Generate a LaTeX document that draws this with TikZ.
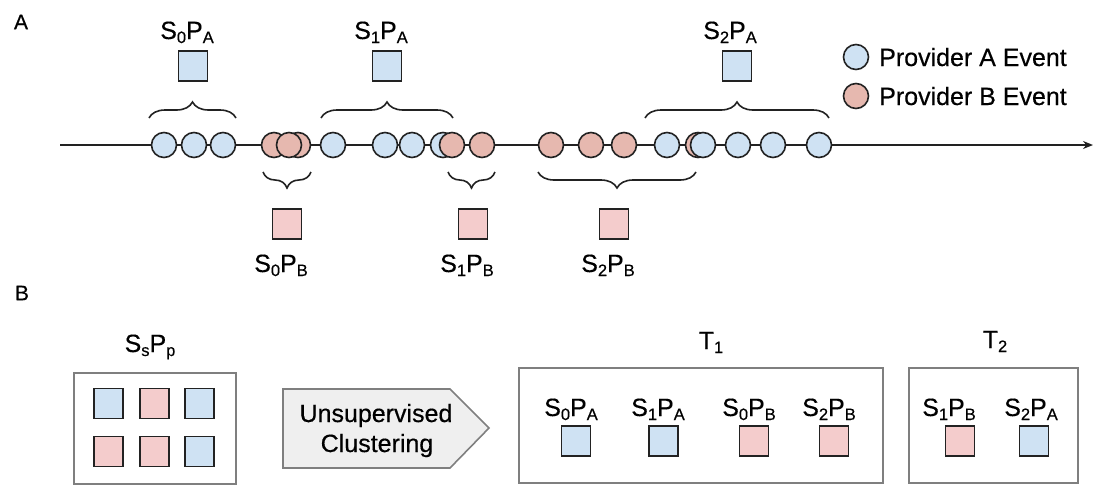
\documentclass[tikz,border=0pt]{standalone}
\usepackage{fontspec}
\setmainfont{Liberation Sans}[FakeBold=0.4]
\usetikzlibrary{decorations.pathreplacing,arrows.meta}
\definecolor{bfill}{HTML}{CFE2F3}
\definecolor{pfill}{HTML}{F4CCCC}
\definecolor{pcirc}{HTML}{E6B8AF}
\definecolor{edgec}{HTML}{222222}
\definecolor{boxedge}{HTML}{7F7F7F}
\definecolor{arrfill}{HTML}{EFEFEF}
\newcommand\lsub[1]{\raisebox{-4pt}{\fontsize{16.5}{17}\selectfont #1}}
\newcommand\SP[2]{S\lsub{#1}P\lsub{#2}}
\tikzset{
  ev/.style={circle, draw=edgec, line width=1.6pt, minimum size=25pt, inner sep=0pt},
  bev/.style={ev, fill=bfill},
  pev/.style={ev, fill=pcirc},
  sq/.style={draw=edgec, line width=1.6pt, minimum width=29pt, minimum height=30pt, inner sep=0pt},
  bsq/.style={sq, fill=bfill},
  psq/.style={sq, fill=pfill},
  lbl/.style={font=\fontsize{25}{30}\selectfont, inner sep=0pt, anchor=base},
  panel/.style={font=\fontsize{21}{25}\selectfont, inner sep=0pt},
  grpbox/.style={draw=boxedge, line width=1.6pt},
  tbrace/.style={decorate, decoration={brace, amplitude=16pt}, line width=1.6pt, draw=edgec},
}
\begin{document}
\begin{tikzpicture}[x=1pt,y=-1pt]
\useasboundingbox (0,0) rectangle (1095,485);
% panel labels
\node[panel] (pA) at (21,22) {A};
\node[panel] (pB) at (22,293) {B};
% timeline
\coordinate (tl0) at (60,145);
\coordinate (tl1) at (1093,145);
\draw[line width=1.6pt, draw=edgec, -{Stealth[length=10pt,width=8pt]}] (tl0) -- (tl1);
% events
\node[bev] (a1) at (164,145) {};
\node[bev] (a2) at (194,145) {};
\node[bev] (a3) at (223,145) {};
\node[pev] (b1) at (274,145) {};
\node[pev] (b3) at (298,145) {};
\node[pev] (b2) at (289,145) {};
\node[bev] (a4) at (333,145) {};
\node[bev] (a5) at (385,145) {};
\node[bev] (a6) at (412,145) {};
\node[bev] (a7) at (443,145) {};
\node[pev] (b4) at (452,145) {};
\node[pev] (b5) at (482,145) {};
\node[pev] (b6) at (551,145) {};
\node[pev] (b7) at (591,145) {};
\node[pev] (b8) at (624,145) {};
\node[pev] (b9) at (698,145) {};
\node[bev] (a8) at (667,145) {};
\node[bev] (a9) at (703,145) {};
\node[bev] (a10) at (738,145) {};
\node[bev] (a11) at (773,145) {};
\node[bev] (a12) at (819,145) {};
% braces above
\draw[tbrace] (149,118) -- (236,118);
\draw[tbrace] (321,118) -- (453,118);
\draw[tbrace] (645,118) -- (829,118);
% braces below
\draw[tbrace] (311,172) -- (263,172);
\draw[tbrace] (495,172) -- (448,172);
\draw[tbrace] (696,172) -- (538,172);
% session squares above
\node[bsq] (qA0) at (193,66) {};
\node[bsq] (qA1) at (387,66) {};
\node[bsq] (qA2) at (737,66) {};
\node[lbl] (tA0) at (187,39) {\SP{0}{A}};
\node[lbl] (tA1) at (381,39) {\SP{1}{A}};
\node[lbl] (tA2) at (730,39) {\SP{2}{A}};
% session squares below
\node[psq] (qB0) at (287,224) {};
\node[psq] (qB1) at (473,224) {};
\node[psq] (qB2) at (614,224) {};
\node[lbl] (tB0) at (281,272) {\SP{0}{B}};
\node[lbl] (tB1) at (467,272) {\SP{1}{B}};
\node[lbl] (tB2) at (608,272) {\SP{2}{B}};
% legend
\node[bev] (legA) at (856,57) {};
\node[pev] (legB) at (856,96) {};
\node[lbl, anchor=base west] (legAt) at (879,66) {Provider A Event};
\node[lbl, anchor=base west] (legBt) at (879,105) {Provider B Event};
% ---- part B ----
\draw[grpbox] (74,373) rectangle (236,484);
\node[lbl] (ssppt) at (150,352) {S\lsub{s}P\lsub{p}};
\node[bsq] (m1) at (108.5,403.5) {};
\node[psq] (m2) at (154.5,403.5) {};
\node[bsq] (m3) at (199.5,403.5) {};
\node[psq] (m4) at (108.5,451.5) {};
\node[psq] (m5) at (154.5,451.5) {};
\node[bsq] (m6) at (199.5,451.5) {};
% clustering arrow
\draw[draw=boxedge, line width=1.6pt, fill=arrfill, line join=miter]
  (283,389) -- (450,389) -- (489,428) -- (450,468) -- (283,468) -- cycle;
\node[lbl] (cl1) at (376,422) {Unsupervised};
\node[lbl] (cl2) at (377,452) {Clustering};
% T1
\draw[grpbox] (519,368) rectangle (883,483);
\node[lbl] (T1t) at (711,349) {T\lsub{1}};
\node[lbl] (c1t) at (571,416) {\SP{0}{A}};
\node[lbl] (c2t) at (658,416) {\SP{1}{A}};
\node[lbl] (c3t) at (749,416) {\SP{0}{B}};
\node[lbl] (c4t) at (829,416) {\SP{2}{B}};
\node[bsq] (c1) at (576,441) {};
\node[bsq] (c2) at (663.5,441) {};
\node[psq] (c3) at (754,441) {};
\node[psq] (c4) at (834,441) {};
% T2
\draw[grpbox] (909,368) rectangle (1078,483);
\node[lbl] (T2t) at (995,348) {T\lsub{2}};
\node[lbl] (d1t) at (949,416) {\SP{1}{B}};
\node[lbl] (d2t) at (1031,416) {\SP{2}{A}};
\node[psq] (d1) at (960,441) {};
\node[bsq] (d2) at (1034,441) {};
\end{tikzpicture}
\end{document}
